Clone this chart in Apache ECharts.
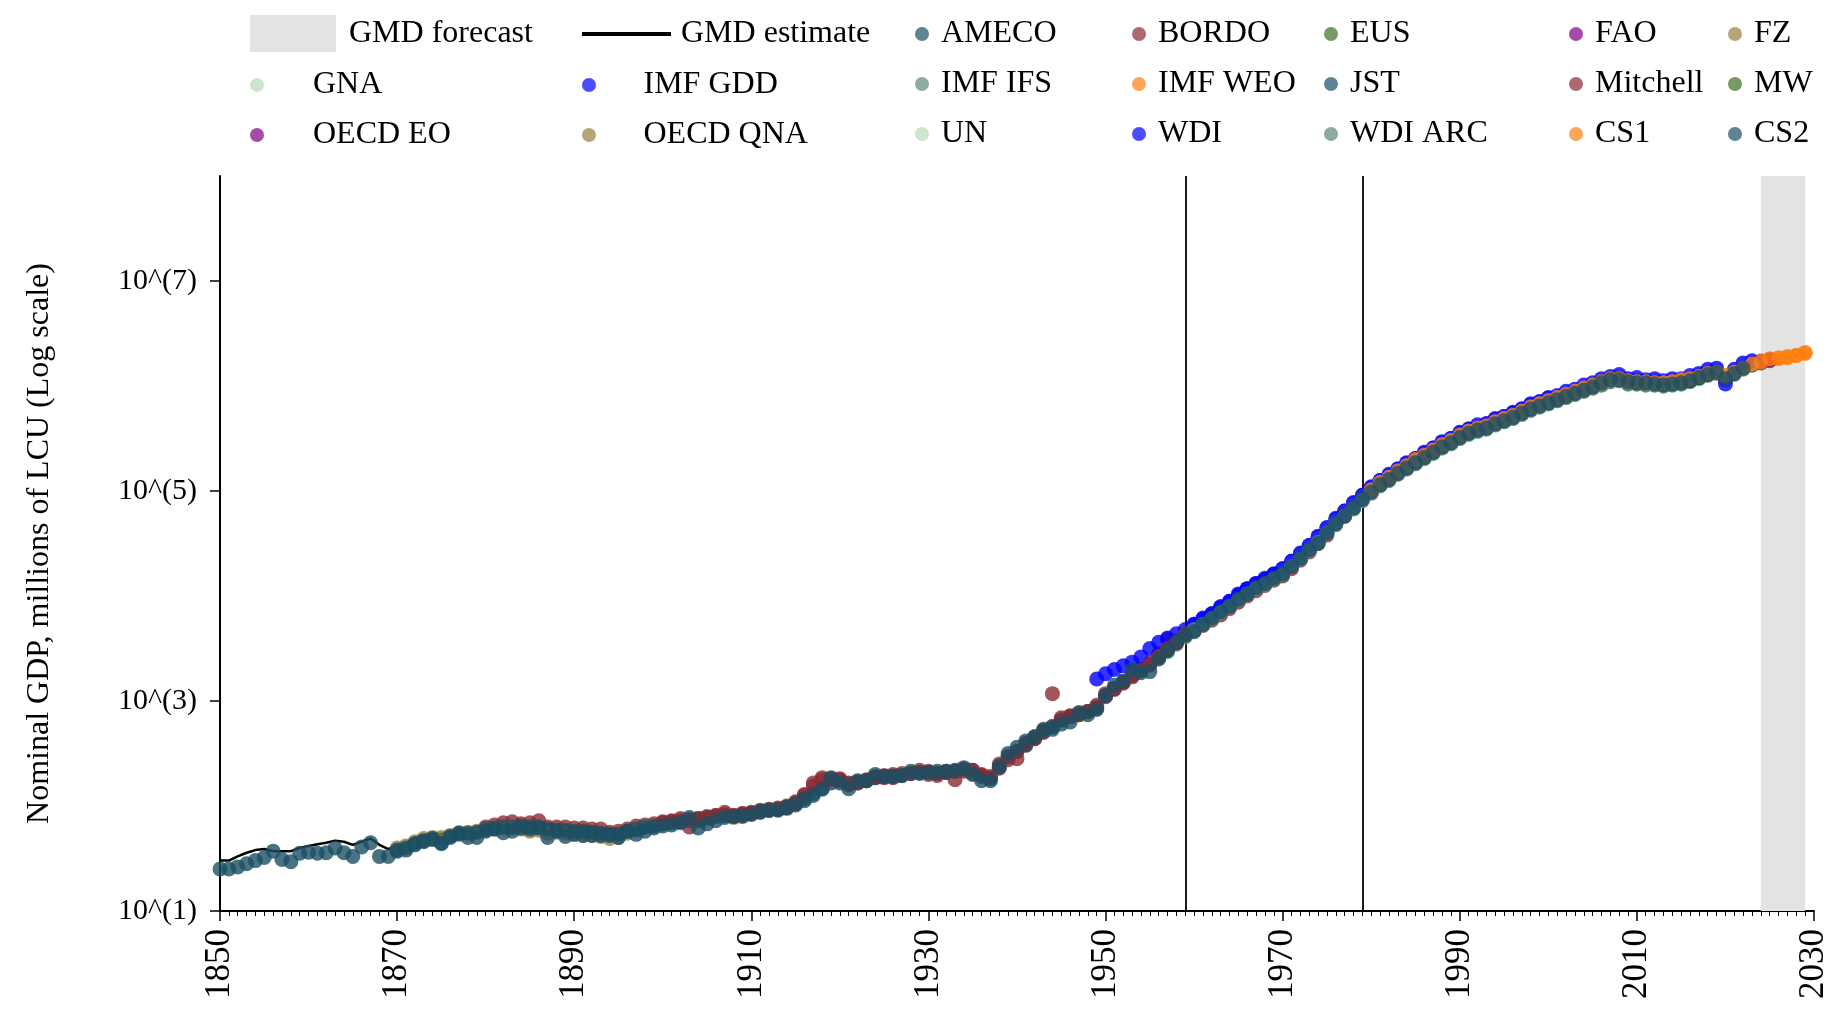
<!DOCTYPE html>
<html>
<head>
<meta charset="utf-8">
<title>Nominal GDP</title>
<script src="https://cdn.jsdelivr.net/npm/echarts@6/dist/echarts.min.js"></script>
<style>
  html, body { margin: 0; padding: 0; background: #fff; }
  #chart { width: 1837px; height: 1017px; }
</style>
</head>
<body>
<div id="chart"></div>
<script>
// all values are log10 of nominal GDP (millions of LCU), one per year from the "From" year
const yLabelValues = [1, 3, 5, 7];
const markYears = [1959, 1979];
const forecastSpan = [2024, 2029];

const estimateFrom = 1850;
const gmdEstimate = [
  1.48, 1.48, 1.52, 1.555, 1.58, 1.59, 1.57, 1.57, 1.57, 1.60,
  1.62, 1.635, 1.65, 1.67, 1.66, 1.63, 1.66, 1.69, 1.63, 1.59,
  1.62, 1.65, 1.70, 1.725, 1.73, 1.735, 1.75, 1.765, 1.78, 1.795,
  1.81, 1.825, 1.84, 1.84, 1.835, 1.83, 1.82, 1.815, 1.81, 1.805,
  1.80, 1.80, 1.795, 1.785, 1.76, 1.765, 1.79, 1.815, 1.835, 1.845,
  1.855, 1.87, 1.875, 1.88, 1.89, 1.905, 1.92, 1.93, 1.92, 1.935,
  1.945, 1.955, 1.97, 1.98, 1.99, 2.02, 2.07, 2.13, 2.19, 2.24,
  2.25, 2.225, 2.235, 2.25, 2.28, 2.29, 2.29, 2.30, 2.32, 2.325,
  2.325, 2.32, 2.33, 2.34, 2.355, 2.355, 2.31, 2.29, 2.39, 2.48,
  2.53, 2.59, 2.65, 2.715, 2.75, 2.83, 2.855, 2.88, 2.905, 2.95,
  3.06, 3.13, 3.19, 3.245, 3.29, 3.34, 3.41, 3.49, 3.56, 3.635,
  3.70, 3.75, 3.80, 3.86, 3.92, 3.98, 4.04, 4.09, 4.13, 4.18,
  4.22, 4.30, 4.37, 4.45, 4.53, 4.62, 4.70, 4.78, 4.85, 4.93,
  5.00, 5.07, 5.12, 5.18, 5.23, 5.28, 5.33, 5.38, 5.43, 5.47,
  5.52, 5.56, 5.59, 5.61, 5.65, 5.68, 5.71, 5.75, 5.79, 5.82,
  5.85, 5.88, 5.91, 5.94, 5.97, 6.00, 6.03, 6.06, 6.07, 6.04,
  6.04, 6.03, 6.03, 6.02, 6.03, 6.04, 6.06, 6.09, 6.12, 6.14,
  6.08, 6.13, 6.18, 6.21, 6.23, 6.25, 6.26, 6.27, 6.29, 6.31
];

const amecoFrom = 1960;
const ameco = [
  3.69, 3.74, 3.80, 3.85, 3.91, 3.97, 4.03, 4.08, 4.12, 4.17,
  4.21, 4.29, 4.36, 4.44, 4.52, 4.61, 4.69, 4.77, 4.84, 4.92,
  4.99, 5.06, 5.11, 5.17, 5.22, 5.27, 5.32, 5.37, 5.42, 5.46,
  5.51, 5.55, 5.58, 5.60, 5.64, 5.67, 5.70, 5.74, 5.78, 5.81,
  5.84, 5.87, 5.90, 5.93, 5.96, 5.99, 6.02, 6.05, 6.06, 6.03,
  6.03, 6.02, 6.02, 6.01, 6.02, 6.03, 6.05, 6.08, 6.11, 6.13,
  6.07, 6.12, 6.17, 6.20, 6.22, 6.24
];

const bordoFrom = 1880;
const bordo = [
  1.80, 1.82, 1.84, 1.85, 1.83, 1.84, 1.86, 1.80, 1.80, 1.80,
  1.79, 1.79, 1.78, 1.78, 1.75, 1.76, 1.78, 1.81, 1.82, 1.83,
  1.84, 1.85, 1.86, 1.80, 1.86, 1.89, 1.91, 1.92, 1.91, 1.93,
  1.94, 1.95, 1.96, 1.97, 1.98, 2.03, 2.10, 2.22, 2.27, 2.26,
  2.25, 2.22, 2.22, 2.24, 2.27, 2.27, 2.27, 2.29, 2.31, 2.32,
  2.30, 2.29, 2.33, 2.25, 2.33, 2.31, 2.29, 2.27, 2.36, 2.44,
  2.45, 2.58, 2.66, 2.70, 2.76, 2.84, 2.86, 2.87, 2.90, 2.93,
  3.07, 3.12, 3.18, 3.24, 3.30, 3.36, 3.45, 3.59, 3.57, 3.62,
  3.68
];

const eusFrom = 2000;
const eus = [
  5.84, 5.87, 5.90, 5.93, 5.96, 5.99, 6.02, 6.05, 6.06, 6.03,
  6.03, 6.02, 6.02, 6.01, 6.02, 6.03, 6.05, 6.08, 6.11, 6.13,
  6.07, 6.12, 6.17, 6.20
];

const faoFrom = 1970;
const fao = [
  4.21, 4.30, 4.36, 4.45, 4.52, 4.62, 4.69, 4.78, 4.84, 4.93,
  4.99, 5.07, 5.11, 5.18, 5.22, 5.28, 5.32, 5.38, 5.42, 5.47,
  5.51, 5.56, 5.58, 5.61, 5.64, 5.68, 5.70, 5.75, 5.78, 5.82,
  5.84, 5.88, 5.90, 5.94, 5.96, 6.00, 6.02, 6.06, 6.06, 6.04,
  6.03, 6.03, 6.02, 6.02, 6.02, 6.04, 6.05, 6.09, 6.11, 6.14,
  6.07, 6.13, 6.17
];

const fzFrom = 1870;
const fz = [
  1.60, 1.62, 1.66, 1.69, 1.70, 1.70, 1.72, 1.74, 1.75, 1.76,
  1.77, 1.78, 1.79, 1.79, 1.78, 1.76, 1.77, 1.74, 1.75, 1.74,
  1.73, 1.72, 1.72, 1.71, 1.69, 1.70, 1.74, 1.77, 1.80, 1.81,
  1.83, 1.85, 1.86, 1.87, 1.87, 1.88, 1.90, 1.91, 1.89, 1.91,
  1.93, 1.94, 1.96, 1.97
];

const gnaFrom = 1965;
const gna = [
  3.96, 4.02, 4.07, 4.12, 4.16,
  4.20, 4.28, 4.35, 4.44, 4.51, 4.60, 4.68, 4.77, 4.83, 4.91,
  4.98, 5.05, 5.11, 5.16, 5.22, 5.26, 5.32, 5.36, 5.42, 5.45,
  5.50, 5.55, 5.57, 5.60, 5.63, 5.67, 5.69, 5.74, 5.77, 5.81,
  5.83, 5.87, 5.89, 5.93, 5.95, 5.99, 6.01, 6.05, 6.05, 6.03,
  6.02, 6.02, 6.01, 6.01, 6.02, 6.03
];

const imfGddFrom = 1949;
const imfGdd = [
  3.21,
  3.26, 3.30, 3.335, 3.37, 3.42, 3.50, 3.56, 3.60, 3.64, 3.68,
  3.73, 3.78, 3.83, 3.89, 3.95, 4.01, 4.07, 4.12, 4.16, 4.21,
  4.26, 4.33, 4.40, 4.48, 4.56, 4.65, 4.73, 4.81, 4.88, 4.96,
  5.03, 5.10, 5.15, 5.21, 5.26, 5.31, 5.36, 5.41, 5.46, 5.50,
  5.55, 5.59, 5.61, 5.64, 5.68, 5.71, 5.74, 5.78, 5.82, 5.85,
  5.88
];

const imfIfsFrom = 1957;
const imfIfs = [
  3.47, 3.54, 3.61,
  3.68, 3.73, 3.78, 3.84, 3.90, 3.96, 4.02, 4.07, 4.11, 4.16,
  4.20, 4.28, 4.35, 4.43, 4.51, 4.60, 4.68, 4.76, 4.83, 4.91,
  4.98, 5.05, 5.10, 5.16, 5.21, 5.26, 5.31, 5.36, 5.41, 5.45,
  5.50, 5.54, 5.57, 5.59, 5.63, 5.66, 5.69, 5.73, 5.77, 5.80,
  5.83, 5.86, 5.89, 5.92, 5.95, 5.98, 6.01, 6.04, 6.05, 6.02,
  6.02, 6.01, 6.01, 6.00, 6.01, 6.02, 6.04, 6.07, 6.10, 6.12,
  6.06, 6.11, 6.16
];

const imfWeoFrom = 1980;
const imfWeo = [
  5.00, 5.06, 5.12, 5.18, 5.23, 5.29, 5.33, 5.38, 5.43, 5.47,
  5.52, 5.56, 5.59, 5.61, 5.65, 5.68, 5.71, 5.75, 5.79, 5.82,
  5.85, 5.88, 5.91, 5.94, 5.97, 6.00, 6.03, 6.06, 6.08, 6.05,
  6.05, 6.04, 6.04, 6.03, 6.04, 6.05, 6.07, 6.10, 6.12, 6.14,
  6.09, 6.14, 6.19, 6.22, 6.24, 6.25, 6.27, 6.28, 6.29, 6.32
];

const jstFrom = 1870;
const jst = [
  1.58, 1.60, 1.64, 1.67, 1.69, 1.65, 1.70, 1.73, 1.74, 1.75,
  1.78, 1.79, 1.80, 1.80, 1.79, 1.80, 1.79, 1.78, 1.77, 1.77,
  1.76, 1.76, 1.75, 1.74, 1.73, 1.73, 1.76, 1.78, 1.80, 1.81,
  1.83, 1.84, 1.85, 1.86, 1.88, 1.89, 1.90, 1.91, 1.90, 1.92,
  1.93, 1.94, 1.96, 1.97, 1.98, 2.01, 2.05, 2.12, 2.17, 2.22,
  2.24, 2.21, 2.22, 2.24, 2.27, 2.28, 2.28, 2.29, 2.31, 2.32,
  2.32, 2.31, 2.32, 2.33, 2.35, 2.34, 2.28, 2.26, 2.37, 2.47,
  2.52, 2.58, 2.64, 2.71, 2.75, 2.82, 2.85, 2.87, 2.90, 2.94,
  3.05, 3.12, 3.18, 3.24, 3.29, 3.34, 3.41, 3.49, 3.56, 3.63,
  3.69
];

const mitchellFrom = 1900;
const mitchell = [
  1.85, 1.86, 1.88, 1.87, 1.88, 1.90, 1.91, 1.94, 1.91, 1.92,
  1.93, 1.96, 1.97, 1.98, 2.00, 2.04, 2.11, 2.19, 2.25, 2.25,
  2.26, 2.20, 2.23, 2.25, 2.28, 2.29, 2.30, 2.31, 2.31, 2.34,
  2.33, 2.31, 2.32, 2.33, 2.35, 2.34, 2.30, 2.28, 2.40, 2.47,
  2.52, 2.60, 2.64, 2.72, 3.07, 2.82, 2.85, 2.88, 2.90, 2.96,
  3.04, 3.11, 3.17, 3.23, 3.29, 3.35, 3.42, 3.50, 3.55, 3.64,
  3.67, 3.72, 3.77, 3.82, 3.88, 3.94, 4.00, 4.05, 4.10, 4.15,
  4.19, 4.26, 4.34, 4.42, 4.50, 4.58
];

const mwFrom = 1990;
const mw = [
  5.51, 5.55, 5.58, 5.60, 5.64, 5.67, 5.70, 5.74, 5.78, 5.81,
  5.84, 5.87, 5.90, 5.93, 5.96, 5.99, 6.02, 6.05, 6.06, 6.03,
  6.03, 6.02, 6.02, 6.01, 6.02, 6.03, 6.05, 6.08, 6.11, 6.13,
  6.07
];

const oecdEoFrom = 1970;
const oecdEo = [
  4.22, 4.30, 4.37, 4.45, 4.53, 4.62, 4.70, 4.78, 4.85, 4.93,
  5.00, 5.07, 5.12, 5.18, 5.23, 5.28, 5.33, 5.38, 5.43, 5.47,
  5.52, 5.56, 5.59, 5.61, 5.65, 5.68, 5.71, 5.75, 5.79, 5.82,
  5.85, 5.88, 5.91, 5.94, 5.97, 6.00, 6.03, 6.06, 6.07, 6.04,
  6.04, 6.03, 6.03, 6.02, 6.03, 6.04, 6.06, 6.09, 6.12, 6.14,
  6.08, 6.13, 6.18, 6.21, 6.23, 6.25
];

const oecdQnaFrom = 1995;
const oecdQna = [
  5.68, 5.71, 5.75, 5.79, 5.82, 5.85, 5.88, 5.91, 5.94, 5.97,
  6.00, 6.03, 6.06, 6.07, 6.04, 6.04, 6.03, 6.03, 6.02, 6.03,
  6.04, 6.06, 6.09, 6.12, 6.14, 6.08, 6.13, 6.18, 6.21
];

const unFrom = 1970;
const un = [
  4.24, 4.32, 4.39, 4.47, 4.55, 4.64, 4.72, 4.80, 4.87, 4.95,
  5.02, 5.09, 5.14, 5.20, 5.25, 5.30, 5.35, 5.40, 5.45, 5.49,
  5.54, 5.58, 5.61, 5.63, 5.67, 5.70, 5.73, 5.77, 5.81, 5.84,
  5.87, 5.90, 5.93, 5.96, 5.99, 6.02, 6.05, 6.08, 6.09, 6.06,
  6.06, 6.05, 6.05, 6.04, 6.05, 6.06, 6.08, 6.11, 6.14, 6.16,
  6.10, 6.15, 6.20
];

const wdiFrom = 1960;
const wdi = [
  3.73, 3.79, 3.83, 3.90, 3.95, 4.02, 4.07, 4.12, 4.17, 4.21,
  4.26, 4.33, 4.41, 4.48, 4.57, 4.65, 4.74, 4.81, 4.89, 4.96,
  5.04, 5.10, 5.16, 5.21, 5.27, 5.31, 5.37, 5.41, 5.47, 5.50,
  5.56, 5.59, 5.63, 5.64, 5.69, 5.71, 5.75, 5.78, 5.83, 5.85,
  5.89, 5.91, 5.95, 5.97, 6.01, 6.03, 6.07, 6.09, 6.11, 6.07,
  6.08, 6.06, 6.07, 6.05, 6.07, 6.07, 6.10, 6.12, 6.16, 6.17,
  6.02, 6.16, 6.22, 6.24
];

const wdiArcFrom = 1960;
const wdiArc = [
  3.68, 3.73, 3.78, 3.84, 3.90, 3.96, 4.02, 4.07, 4.11, 4.16,
  4.20, 4.28, 4.35, 4.43, 4.51, 4.60, 4.68, 4.76, 4.83, 4.91,
  4.98, 5.05, 5.10, 5.16, 5.21, 5.26, 5.31, 5.36, 5.41, 5.45,
  5.50, 5.54, 5.57, 5.59, 5.63, 5.66, 5.69, 5.73, 5.77, 5.80,
  5.83, 5.86, 5.89, 5.92, 5.95, 5.98, 6.01, 6.04, 6.05, 6.02,
  6.02, 6.01, 6.01, 6.00, 6.01, 6.02
];

const cs1From = 1980;
const cs1 = [
  5.01, 5.08, 5.13, 5.19, 5.24, 5.30, 5.34, 5.39, 5.44, 5.48,
  5.53, 5.57, 5.60, 5.62, 5.66, 5.69, 5.72, 5.76, 5.80, 5.83,
  5.86, 5.89, 5.92, 5.95, 5.98, 6.01, 6.04, 6.07, 6.07, 6.05,
  6.04, 6.04, 6.03, 6.03, 6.04, 6.06, 6.07, 6.09, 6.12, 6.13,
  6.10, 6.13, 6.17, 6.21, 6.23, 6.26, 6.26, 6.27, 6.29, 6.31
];

const cs2From = 1850;
const cs2 = [
  1.40, 1.40, 1.42, 1.45, 1.48, 1.51, 1.57, 1.49, 1.47, 1.55,
  1.56, 1.55, 1.555, 1.60, 1.555, 1.52, 1.61, 1.65, 1.52, 1.52,
  1.57, 1.58, 1.63, 1.66, 1.68, 1.64, 1.71, 1.745, 1.70, 1.70,
  1.76, 1.78, 1.745, 1.76, 1.81, 1.78, 1.80, 1.70, 1.76, 1.71,
  1.73, 1.72, 1.72, 1.72, 1.72, 1.70, 1.76, 1.73, 1.76, 1.79,
  1.81, 1.82, 1.84, 1.89, 1.79, 1.83, 1.86, 1.89, 1.90, 1.90,
  1.92, 1.95, 1.96, 1.96, 1.99, 2.02, 2.07, 2.10, 2.16, 2.27,
  2.22, 2.165, 2.24, 2.24, 2.30, 2.28, 2.285, 2.29, 2.33, 2.31,
  2.32, 2.33, 2.33, 2.34, 2.365, 2.30, 2.24, 2.24, 2.38, 2.50,
  2.56, 2.62, 2.66, 2.73, 2.73, 2.78, 2.80, 2.89, 2.87, 2.92,
  3.05, 3.15, 3.19, 3.30, 3.27, 3.28, 3.40, 3.48, 3.56, 3.63,
  3.66, 3.73, 3.79, 3.85, 3.90, 3.97, 4.02, 4.08, 4.12, 4.17,
  4.21, 4.28, 4.36, 4.44, 4.50, 4.60, 4.69, 4.76, 4.84, 4.92,
  4.99, 5.06, 5.11, 5.17, 5.22, 5.27, 5.32, 5.37, 5.42, 5.46,
  5.51, 5.55, 5.58, 5.60, 5.64, 5.67, 5.70, 5.74, 5.78, 5.81,
  5.84, 5.87, 5.90, 5.93, 5.96, 5.99, 6.03, 6.06, 6.06, 6.04,
  6.03, 6.03, 6.02, 6.01, 6.02, 6.03, 6.05, 6.08, 6.11, 6.13,
  6.07, 6.12, 6.17
];

// colours of the source dots (sources share a colour in groups)
const cSteel = '#1b4f64';
const cRed = '#8b2a32';
const cOlive = '#3f6e22';
const cPurple = '#800080';
const cKhaki = '#957f3f';
const cPale = '#b8d8b8';
const cBlue = '#0000ff';
const cGrey = '#5e8878';
const cOrange = '#ff7f0e';

const sources = [
  ['AMECO', amecoFrom, ameco, cSteel],
  ['BORDO', bordoFrom, bordo, cRed],
  ['EUS', eusFrom, eus, cOlive],
  ['FAO', faoFrom, fao, cPurple],
  ['FZ', fzFrom, fz, cKhaki],
  ['GNA', gnaFrom, gna, cPale],
  ['IMF GDD', imfGddFrom, imfGdd, cBlue],
  ['IMF IFS', imfIfsFrom, imfIfs, cGrey],
  ['IMF WEO', imfWeoFrom, imfWeo, cOrange],
  ['JST', jstFrom, jst, cSteel],
  ['Mitchell', mitchellFrom, mitchell, cRed],
  ['MW', mwFrom, mw, cOlive],
  ['OECD EO', oecdEoFrom, oecdEo, cPurple],
  ['OECD QNA', oecdQnaFrom, oecdQna, cKhaki],
  ['UN', unFrom, un, cPale],
  ['WDI', wdiFrom, wdi, cBlue],
  ['WDI ARC', wdiArcFrom, wdiArc, cGrey],
  ['CS1', cs1From, cs1, cOrange],
  ['CS2', cs2From, cs2, cSteel]
];

const toPoints = (from, vals) => vals.map((v, i) => [from + i, v]);

const font = 'Liberation Serif';
const legendText = (pad) => ({ fontFamily: font, fontSize: 32, color: '#000', padding: [0, 0, 0, pad] });

const baseLegend = {
  padding: 0,
  orient: 'vertical',
  itemGap: 18,
  selectedMode: false
};

const legendColumns = [
  { data: ['GMD forecast'], left: 250, top: 15, itemWidth: 86, itemHeight: 37, icon: 'rect', pad: 8, solid: true },
  { data: ['GMD estimate'], left: 582, top: 18, itemWidth: 89, itemHeight: 4, icon: 'rect', pad: 5, solid: true },
  { data: ['GNA', 'OECD EO'], left: 250, top: 69, itemWidth: 86, itemHeight: 14, icon: 'circle', pad: 8 },
  { data: ['IMF GDD', 'OECD QNA'], left: 582, top: 69, itemWidth: 89, itemHeight: 14, icon: 'circle', pad: 5 },
  { data: ['AMECO', 'IMF IFS', 'UN'], left: 915, top: 18, itemWidth: 14, itemHeight: 14, icon: 'circle', pad: 7 },
  { data: ['BORDO', 'IMF WEO', 'WDI'], left: 1132, top: 18, itemWidth: 14, itemHeight: 14, icon: 'circle', pad: 7 },
  { data: ['EUS', 'JST', 'WDI ARC'], left: 1324, top: 18, itemWidth: 14, itemHeight: 14, icon: 'circle', pad: 7 },
  { data: ['FAO', 'Mitchell', 'CS1'], left: 1569, top: 18, itemWidth: 14, itemHeight: 14, icon: 'circle', pad: 7 },
  { data: ['FZ', 'MW', 'CS2'], left: 1728, top: 18, itemWidth: 14, itemHeight: 14, icon: 'circle', pad: 7 }
];

const chart = echarts.init(document.getElementById('chart'), null, { renderer: 'canvas' });

const series = [
  {
    name: 'GMD forecast',
    type: 'line',
    data: [],
    itemStyle: { color: '#e3e3e3' },
    lineStyle: { color: '#e3e3e3' }
  },
  {
    name: 'GMD estimate',
    type: 'line',
    data: toPoints(estimateFrom, gmdEstimate),
    showSymbol: false,
    symbol: 'none',
    silent: true,
    z: 2,
    itemStyle: { color: '#000' },
    lineStyle: { color: '#000', width: 2.5 },
    markArea: {
      silent: true,
      z: 1,
      itemStyle: { color: '#e3e3e3' },
      data: [[{ xAxis: forecastSpan[0] }, { xAxis: forecastSpan[1] }]]
    },
    markLine: {
      silent: true,
      z: 1,
      symbol: 'none',
      label: { show: false },
      lineStyle: { color: '#000', width: 1.8, type: 'solid' },
      data: markYears.map(y => ({ xAxis: y }))
    }
  }
];

sources.forEach(([name, from, vals, color]) => {
  series.push({
    name: name,
    type: 'scatter',
    data: toPoints(from, vals),
    symbolSize: 15,
    silent: true,
    z: 3,
    itemStyle: { color: color, opacity: 0.8 }
  });
});

const option = {
  animation: false,
  backgroundColor: '#fff',
  textStyle: { fontFamily: font },
  legend: legendColumns.map(c => Object.assign({}, baseLegend, {
    data: c.data.map(n => ({ name: n, icon: c.icon })),
    left: c.left,
    top: c.top,
    itemWidth: c.itemWidth,
    itemHeight: c.itemHeight,
    itemStyle: { opacity: c.solid ? 1 : 0.7 },
    textStyle: legendText(c.pad)
  })),
  grid: { left: 220, right: 23, top: 176, bottom: 106, containLabel: false },
  xAxis: {
    type: 'value',
    min: 1850,
    max: 2030,
    interval: 20,
    axisLine: { lineStyle: { color: '#000', width: 2 } },
    axisTick: { length: 10, lineStyle: { color: '#000', width: 1.5 } },
    minorTick: { show: true, splitNumber: 20, length: 5, lineStyle: { color: '#000', width: 1 } },
    splitLine: { show: false },
    axisLabel: {
      rotate: 90,
      margin: 18,
      fontFamily: font,
      fontSize: 35,
      color: '#000',
      formatter: v => String(v)
    }
  },
  yAxis: {
    type: 'value',
    min: 1,
    max: 8,
    interval: 2,
    name: 'Nominal GDP, millions of LCU (Log scale)',
    nameLocation: 'middle',
    nameGap: 164,
    nameTextStyle: { fontFamily: font, fontSize: 32, color: '#000' },
    axisLine: { show: true, lineStyle: { color: '#000', width: 2 } },
    axisTick: { show: true, length: 10, customValues: yLabelValues, lineStyle: { color: '#000', width: 1.5 } },
    splitLine: { show: false },
    axisLabel: {
      margin: 23,
      customValues: yLabelValues,
      fontFamily: font,
      fontSize: 30,
      color: '#000',
      formatter: v => '10^(' + v + ')'
    }
  },
  series: series
};

chart.setOption(option);
</script>
</body>
</html>
